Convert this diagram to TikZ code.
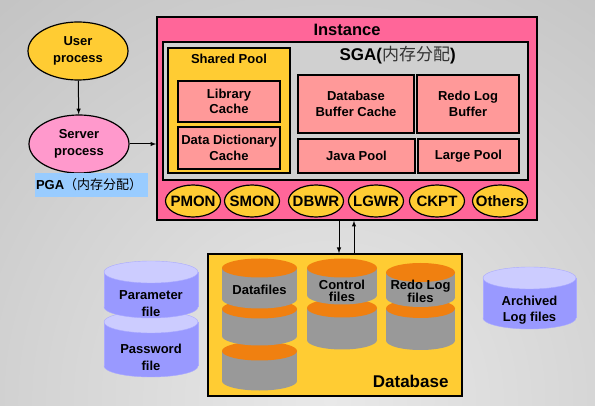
\documentclass[tikz,border=0pt]{standalone}
\usepackage{fontspec}
\setmainfont{Liberation Sans}
\newfontfamily\cjk{Noto Sans CJK SC}
\usetikzlibrary{shapes.geometric}
\definecolor{instpink}{HTML}{FF6699}
\definecolor{sgagray}{HTML}{D0D0D0}
\definecolor{poolyellow}{HTML}{FFCC33}
\definecolor{cachesalmon}{HTML}{FF9999}
\definecolor{serverpink}{HTML}{FF99CC}
\definecolor{pgablue}{HTML}{99CCFF}
\definecolor{drumorange}{HTML}{F08010}
\definecolor{drumgray}{HTML}{999999}
\definecolor{filebody}{HTML}{9999FF}
\definecolor{filetop}{HTML}{CCCCFF}
\definecolor{fileedge}{HTML}{AAAAFF}
\definecolor{backlight}{HTML}{E9E9E9}
\definecolor{backdark}{HTML}{9E9E9E}
\pgfdeclareradialshading{backdrop}{\pgfpoint{0bp}{0bp}}{color(0bp)=(backlight); color(50bp)=(backdark)}
\newcommand\lblfont{\bfseries\fontsize{13}{15.5}\selectfont}
\newcommand\procfont{\bfseries\fontsize{15}{16}\selectfont}
\newcommand\bigfont{\bfseries\fontsize{17}{18}\selectfont}
\begin{document}
\begin{tikzpicture}[x=1pt,y=-1pt,
  box/.style={rectangle,draw=black,line width=1.4pt,inner sep=0pt,align=center,font=\lblfont},
  cache/.style={box,fill=cachesalmon},
  proc/.style={ellipse,draw=black,line width=1.2pt,inner sep=0pt,align=center,
    font=\bfseries\fontsize{13}{16.5}\selectfont,minimum width=100,minimum height=58},
  bgproc/.style={ellipse,draw=black,line width=1.2pt,fill=poolyellow,minimum width=55,minimum height=32},
  drumlbl/.style={font=\bfseries\fontsize{13}{12}\selectfont,align=center},
  filelbl/.style={font=\bfseries\fontsize{13}{16.5}\selectfont,align=center}]
\useasboundingbox (0,0) rectangle (595,406);
\begin{scope}
\clip (0,0) rectangle (595,406);
\shade[shading=backdrop] (-190,-120) rectangle (850,920);
\end{scope}

% client side
\node[proc,fill=poolyellow] (user) at (78,51) {User\\process};
\node[proc,fill=serverpink] (server) at (79,144) {Server\\process};
\node[rectangle,fill=pgablue,inner sep=1pt,minimum width=113,minimum height=24,
  text width=111,align=left,font=\lblfont] (pga) at (91.5,185) {PGA{\mdseries\cjk（内存分配）}};

% instance
\node[box,fill=instpink,minimum width=380,minimum height=203] (inst) at (347,118.5) {};
\node[font=\bfseries\fontsize{16.5}{18}\selectfont] (insttitle) at (347,30) {Instance};
\node[box,fill=sgagray,minimum width=365,minimum height=138] (sga) at (345.5,111) {};
\node[anchor=west,font=\bigfont] (sgatitle) at (336,55) {SGA({\mdseries\cjk\color{black!80}内存分配})};
\node[box,fill=poolyellow,minimum width=122,minimum height=125] (shared) at (229,110.5) {};
\node[font=\lblfont] (sharedtitle) at (229,59) {Shared Pool};
\node[cache,minimum width=102,minimum height=41] (lib) at (229,101.5) {Library\\Cache};
\node[cache,minimum width=102,minimum height=42] (ddc) at (229,148) {Data Dictionary\\Cache};
\node[cache,minimum width=116,minimum height=58] (dbc) at (356,104) {Database\\Buffer Cache};
\node[cache,minimum width=117,minimum height=34] (java) at (356.5,156) {Java Pool};
\node[cache,minimum width=102,minimum height=58] (redo) at (468,104) {Redo Log\\Buffer};
\node[cache,minimum width=101,minimum height=34] (large) at (468.5,156) {Large Pool};
\foreach \nm/\cx/\txt in {pmon/193/PMON,smon/252/SMON,dbwr/316/DBWR,lgwr/376/LGWR,ckpt/437/CKPT,others/500/Others}
  \node[bgproc,label={[font=\procfont]center:\txt}] (\nm) at (\cx,201) {};

% database
\node[box,fill=poolyellow,minimum width=254,minimum height=142] (db) at (335,325) {};
\node[anchor=east,font=\bigfont] (dblabel) at (452,381) {Database};
\foreach \cx/\rx/\yt/\yb in {259.5/37.5/351/381,259.5/37.5/309/336,259.5/37.5/268/299,
  342/35/308/340,342/35/268/295,420.5/34.5/308.5/340.5,420.5/34.5/272.5/297.5}
{
  \fill[drumgray] (\cx,\yb) ellipse [x radius=\rx pt,y radius=9.5pt];
  \fill[drumgray] ({\cx-\rx},\yt) rectangle ({\cx+\rx},\yb);
  \fill[drumorange] (\cx,\yt) ellipse [x radius=\rx pt,y radius=9.5pt];
}
\node[drumlbl] (datafiles) at (259.5,290) {Datafiles};
\node[drumlbl] (control) at (342,291) {Control\\files};
\node[drumlbl] (redofiles) at (420.5,291) {Redo Log\\files};

% files outside
\foreach \cx/\rx/\yt/\yb in {151/47/322/366,151/47/272/307,529.5/46.5/278/318}
{
  \filldraw[fill=filebody,draw=fileedge] (\cx,\yb) ellipse [x radius=\rx pt,y radius=11pt];
  \fill[filebody] ({\cx-\rx},\yt) rectangle ({\cx+\rx},\yb);
  \draw[fileedge] ({\cx-\rx},\yt) -- ({\cx-\rx},\yb) ({\cx+\rx},\yt) -- ({\cx+\rx},\yb);
  \filldraw[fill=filetop,draw=fileedge] (\cx,\yt) ellipse [x radius=\rx pt,y radius=11pt];
}
\node[filelbl] (param) at (151,303.5) {Parameter\\file};
\node[filelbl] (passwd) at (151,357.5) {Password\\file};
\node[filelbl] (archived) at (529.5,310) {Archived\\Log files};

% connectors
\coordinate (dnx) at (339,0);
\coordinate (upx) at (354,0);
\draw[-latex,line width=1pt] (user) -- (server);
\draw[-latex,line width=1pt] (server.east) -- (server.east -| inst.west);
\draw[-latex,line width=1pt] (inst.south -| dnx) -- (db.north -| dnx);
\draw[-latex,line width=1pt] (db.north -| upx) -- (inst.south -| upx);
\end{tikzpicture}
\end{document}
